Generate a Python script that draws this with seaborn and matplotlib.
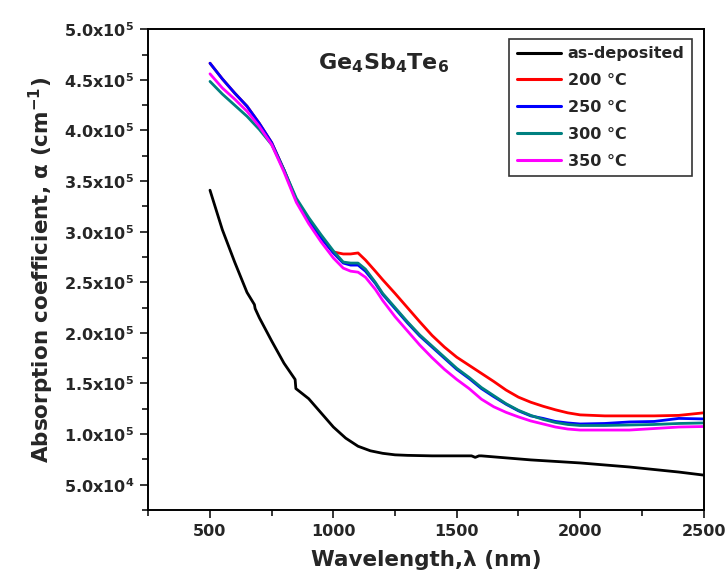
import numpy as np
import pandas as pd
import matplotlib
matplotlib.use("Agg")
import matplotlib.pyplot as plt
from matplotlib.ticker import FixedLocator, MultipleLocator, FuncFormatter
import seaborn as sns

# ---- data: absorption coefficient (cm^-1) vs wavelength (nm) ----
series_names = ["as-deposited", "200 \u00b0C", "250 \u00b0C", "300 \u00b0C", "350 \u00b0C"]
series_colors = ["#000000", "#ff0000", "#0000ff", "#008080", "#ff00ff"]

wl_asdep = [500, 550, 600, 650, 680, 683, 700, 750, 800, 845, 848, 900, 950, 1000,
            1050, 1100, 1150, 1200, 1250, 1300, 1400, 1500, 1560, 1575, 1590, 1600,
            1700, 1800, 1900, 2000, 2100, 2200, 2300, 2400, 2500]
alpha_asdep = [341e3, 302e3, 270e3, 240e3, 228e3, 224e3, 215e3, 192e3, 170e3, 154e3,
               145e3, 135e3, 121e3, 107e3, 96e3, 88e3, 83.5e3, 81e3, 79.5e3, 79e3,
               78.5e3, 78.5e3, 78.5e3, 77e3, 78.5e3, 78.5e3, 76.5e3, 74.5e3, 73e3,
               71.5e3, 69.5e3, 67.5e3, 65e3, 62.5e3, 59.5e3]

wl_annealed = [500, 550, 600, 650, 700, 750, 800, 850, 900, 950, 1000, 1040, 1070,
               1100, 1130, 1170, 1200, 1250, 1300, 1350, 1400, 1450, 1500, 1550, 1600,
               1650, 1700, 1750, 1800, 1850, 1900, 1950, 2000, 2100, 2200, 2300, 2400,
               2500]
alpha_200 = [466.5e3, 451e3, 437e3, 424e3, 407e3, 388e3, 361e3, 331e3, 311e3, 294e3,
             280e3, 278e3, 278e3, 279e3, 272e3, 261e3, 252.5e3, 239e3, 225e3, 211e3,
             197.5e3, 186e3, 176e3, 168e3, 160e3, 152e3, 143.5e3, 136.5e3, 131.5e3,
             127.5e3, 124e3, 121e3, 119e3, 118e3, 118e3, 118e3, 118.5e3, 121e3]
alpha_250 = [466.5e3, 451e3, 437e3, 424e3, 407e3, 388e3, 361e3, 331e3, 311e3, 294e3,
             279e3, 269e3, 267e3, 267e3, 261e3, 249e3, 238e3, 224e3, 210e3, 197e3,
             186e3, 175e3, 164e3, 155e3, 145e3, 137e3, 129.5e3, 123e3, 118e3, 115.5e3,
             112.5e3, 111e3, 110e3, 110.5e3, 112e3, 112.5e3, 115.5e3, 115e3]
alpha_300 = [448.5e3, 436e3, 425e3, 414e3, 401e3, 386e3, 361e3, 333e3, 314e3, 297e3,
             281e3, 270e3, 269e3, 269e3, 263e3, 250e3, 239e3, 225e3, 211e3, 198e3,
             187e3, 176e3, 165e3, 156e3, 146e3, 138e3, 130e3, 123.5e3, 118.5e3, 114.5e3,
             111.5e3, 109.5e3, 108.5e3, 108.5e3, 109e3, 109.5e3, 110.5e3, 111e3]
alpha_350 = [456e3, 442e3, 431e3, 419e3, 404e3, 386e3, 359e3, 329e3, 308e3, 290e3,
             274e3, 264e3, 261e3, 260e3, 255e3, 243e3, 232e3, 216e3, 202e3, 188e3,
             175.5e3, 164e3, 154e3, 145e3, 134.5e3, 127e3, 121.5e3, 117e3, 113e3, 110e3,
             107e3, 105e3, 104e3, 104e3, 104e3, 105.5e3, 107e3, 107.5e3]

# ---- long-form table ----
frames = [pd.DataFrame({"wl": wl_asdep, "alpha": alpha_asdep, "sample": series_names[0]})]
for name, vals in zip(series_names[1:], [alpha_200, alpha_250, alpha_300, alpha_350]):
    frames.append(pd.DataFrame({"wl": wl_annealed, "alpha": vals, "sample": name}))
df = pd.concat(frames, ignore_index=True)

# ---- style ----
sns.set_style("ticks")
plt.rcParams["font.family"] = ["DejaVu Sans"]
plt.rcParams["font.weight"] = "bold"
plt.rcParams["mathtext.fontset"] = "dejavusans"
plt.rcParams["mathtext.default"] = "bf"

fig = plt.figure(figsize=(7.28, 5.86), dpi=100)
ax = fig.add_axes([148.3 / 728, 1 - 510 / 586, 555.2 / 728, 480.7 / 586])

sns.lineplot(data=df, x="wl", y="alpha", hue="sample", hue_order=series_names,
             palette=dict(zip(series_names, series_colors)), estimator=None,
             sort=False, linewidth=2.0, ax=ax, legend=True)

# ---- axes ----
ax.set_xlim(250, 2500)
ax.set_ylim(2.5e4, 5.0e5)
ax.xaxis.set_major_locator(FixedLocator([500, 1000, 1500, 2000, 2500]))
ax.xaxis.set_minor_locator(MultipleLocator(250))
ax.yaxis.set_major_locator(MultipleLocator(5e4))
ax.yaxis.set_minor_locator(MultipleLocator(2.5e4))


def sci_label(v, pos):
    if v <= 0:
        return ""
    exp = int(np.floor(np.log10(v) + 1e-9))
    mant = v / 10 ** exp
    return f"{mant:.1f}x10$^{{{exp}}}$"


ax.yaxis.set_major_formatter(FuncFormatter(sci_label))
ax.tick_params(axis="both", which="major", direction="out", length=6, width=1.3,
               labelsize=11.5, top=False, right=False, pad=4)
ax.tick_params(axis="both", which="minor", direction="out", length=4, width=1.3,
               top=False, right=False)
for lab in ax.get_xticklabels() + ax.get_yticklabels():
    lab.set_fontweight("bold")
for side in ["left", "right", "top", "bottom"]:
    ax.spines[side].set_visible(True)
    ax.spines[side].set_linewidth(1.4)
    ax.spines[side].set_color("black")

ax.set_xlabel("Wavelength,\u03bb (nm)", fontsize=15.5, fontweight="bold", labelpad=8)
ax.set_ylabel("Absorption coefficient, \u03b1 (cm$^{-1}$)", fontsize=15.5,
              fontweight="bold", labelpad=6)

ax.text(0.4245, 0.917, "Ge$_4$Sb$_4$Te$_6$", transform=ax.transAxes, ha="center",
        va="baseline", fontsize=16, fontweight="bold")

handles, labels = ax.get_legend_handles_labels()
leg = ax.legend(handles, labels, loc="upper right", bbox_to_anchor=(0.979, 0.98),
                borderaxespad=0, frameon=True, fancybox=False,
                handlelength=2.8, labelspacing=0.75, handletextpad=0.4,
                borderpad=0.45, prop={"weight": "bold", "size": 11.5})
leg.get_frame().set_edgecolor("black")
leg.get_frame().set_linewidth(1.2)
for line in leg.get_lines():
    line.set_linewidth(2.2)

fig.savefig("out.png", dpi=100)
